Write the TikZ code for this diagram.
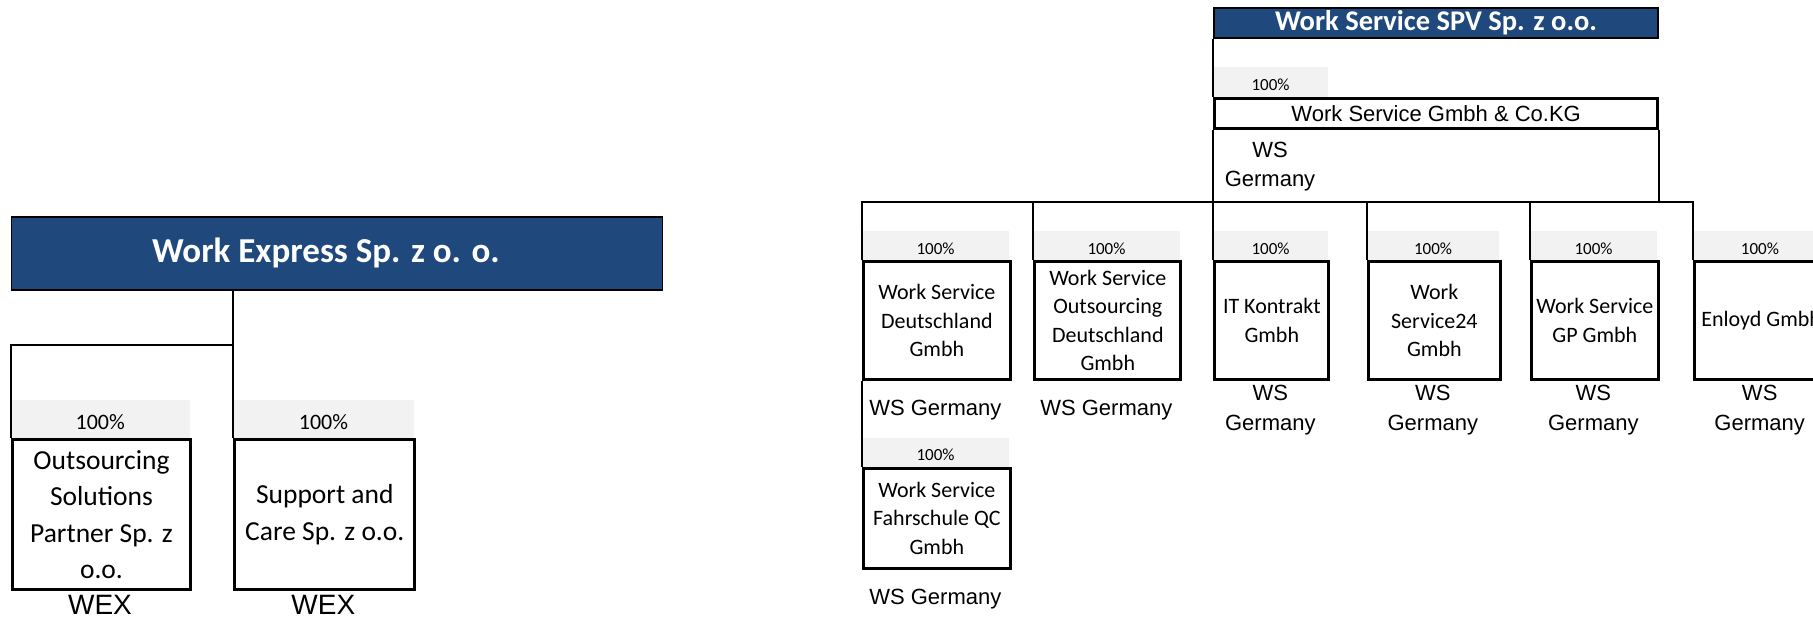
\documentclass[tikz,border=0pt]{standalone}
\usepackage{fontspec}
\usepackage{xcolor}
\usetikzlibrary{positioning}
\newfontfamily\calibri{Carlito}
\newfontfamily\arial{Liberation Sans}
\definecolor{headblue}{RGB}{31,73,125}
\definecolor{bandgray}{RGB}{242,242,242}

\begin{document}
\begin{tikzpicture}[x=1pt, y=-1pt,
            head/.style={fill=headblue, draw=black, line width=1.5pt, inner sep=0pt, anchor=north west,
                text=white, font=\calibri\bfseries\fontsize{28.5}{34}\selectfont},
            title/.style={text=white, font=\calibri\bfseries\fontsize{35}{40}\selectfont},
            firm/.style={draw, line width=3pt, inner sep=0pt, anchor=north west, align=center,
                minimum height=118.3pt, font=\calibri\fontsize{22}{28.5}\selectfont},
            bigfirm/.style={firm, minimum height=150pt, font=\calibri\fontsize{27.5}{36.5}\selectfont},
            stake/.style={fill=bandgray, inner sep=0pt, anchor=north west, minimum height=29pt,
                text height=17.5pt, text depth=0pt, font=\calibri\fontsize{17}{20}\selectfont},
            bigstake/.style={stake, minimum height=37.3pt, text height=21.8pt,
                font=\calibri\fontsize{22}{26}\selectfont},
            site/.style={align=center, inner sep=0pt, text depth=0pt, font=\arial\fontsize{22}{30}\selectfont},
            bigsite/.style={site, font=\arial\fontsize{28}{32}\selectfont},
            link/.style={draw, line width=2pt}]
    \useasboundingbox (0,0) rectangle (1813,622);

    % Work Express
    \node[head, minimum width=651pt, minimum height=73.3pt,
        label={[title, xshift=-11pt]center:Work Express Sp. z o. o.}] (wex) at (10.7,216) {};
    \node[bigstake, minimum width=178.6pt] (ospshare) at (10.7,400) {100\%};
    \node[bigfirm, minimum width=178.6pt] (osp) at (10.7,438.3) {Outsourcing\\Solutions\\Partner Sp. z\\o.o.};
    \node[bigstake, minimum width=180pt] (supshare) at (233.3,400) {100\%};
    \node[bigfirm, minimum width=180pt] (sup) at (233.3,438.3) {Support and\\Care Sp. z o.o.};
    \node[bigsite] (ospsite) at (100,605) {WEX};
    \node[bigsite] (supsite) at (323.3,605) {WEX};

    \coordinate (fork) at (0,345);
    \draw[link] (wex.south -| sup.north west) -- (sup.north west);
    \draw[link] (fork -| sup.north west) -| (osp.north west);

    % Work Service
    \node[head, minimum width=444pt, minimum height=30pt] (spv) at (1213.3,7.3) {Work Service SPV Sp. z o.o.};
    \node[stake, minimum width=114pt, minimum height=30pt] (wskshare) at (1213.3,66.7) {100\%};
    \node[firm, minimum width=442.7pt, minimum height=29.4pt, font=\arial\fontsize{22}{26}\selectfont]
        (wsk) at (1213.3,97.3) {Work Service Gmbh \& Co.KG};
    \node[site, font=\arial\fontsize{22}{29}\selectfont] (wsksite) at (1270,164.5) {WS\\Germany};

    \node[stake, minimum width=147.3pt] (wsdshare) at (861.7,231) {100\%};
    \node[firm, minimum width=147.3pt] (wsd) at (861.7,260) {Work Service\\Deutschland\\Gmbh};
    \node[stake, minimum width=146pt] (wsoshare) at (1033.3,231) {100\%};
    \node[firm, minimum width=146pt] (wso) at (1033.3,260) {Work Service\\Outsourcing\\Deutschland\\Gmbh};
    \node[stake, minimum width=114pt] (itkshare) at (1213.3,231) {100\%};
    \node[firm, minimum width=114pt] (itk) at (1213.3,260) {IT Kontrakt\\Gmbh};
    \node[stake, minimum width=132.3pt] (ws24share) at (1366.7,231) {100\%};
    \node[firm, minimum width=132.3pt] (ws24) at (1366.7,260) {Work\\Service24\\Gmbh};
    \node[stake, minimum width=126.7pt] (wsgpshare) at (1530,231) {100\%};
    \node[firm, minimum width=126.7pt] (wsgp) at (1530,260) {Work Service\\GP Gmbh};
    \node[stake, minimum width=134pt] (enlshare) at (1692.7,231) {100\%};
    \node[firm, minimum width=134pt] (enl) at (1692.7,260) {Enloyd Gmbh};
    \node[stake, minimum width=147.3pt] (wsfshare) at (861.7,437.3) {100\%};
    \node[firm, minimum width=147.3pt, minimum height=100pt] (wsf) at (861.7,466.7) {Work Service\\Fahrschule QC\\Gmbh};

    \node[site] (wsdsite) at (935.3,408.3) {WS Germany};
    \node[site] (wsosite) at (1106.3,408.3) {WS Germany};
    \node[site] (itksite) at (1270.3,407.7) {WS\\Germany};
    \node[site] (ws24site) at (1432.8,407.7) {WS\\Germany};
    \node[site] (wsgpsite) at (1593.3,407.7) {WS\\Germany};
    \node[site] (enlsite) at (1759.7,407.7) {WS\\Germany};
    \node[site] (wsfsite) at (935.3,596.7) {WS Germany};

    \coordinate (bus) at (0,201.7);
    \draw[link] (spv.south west) -- (wsk.north west);
    \draw[link] (wsk.south west) -- (itk.north west);
    \draw[link] (wsk.south east) -- (wsk.south east |- bus);
    \draw[link] (wsd.north west) |- (bus -| enl.north west) -- (enl.north west);
    \foreach \n in {wso,ws24,wsgp}
        \draw[link] (bus -| \n.north west) -- (\n.north west);
    \draw[link] (wsd.south west) -- (wsf.north west);
\end{tikzpicture}
\end{document}
